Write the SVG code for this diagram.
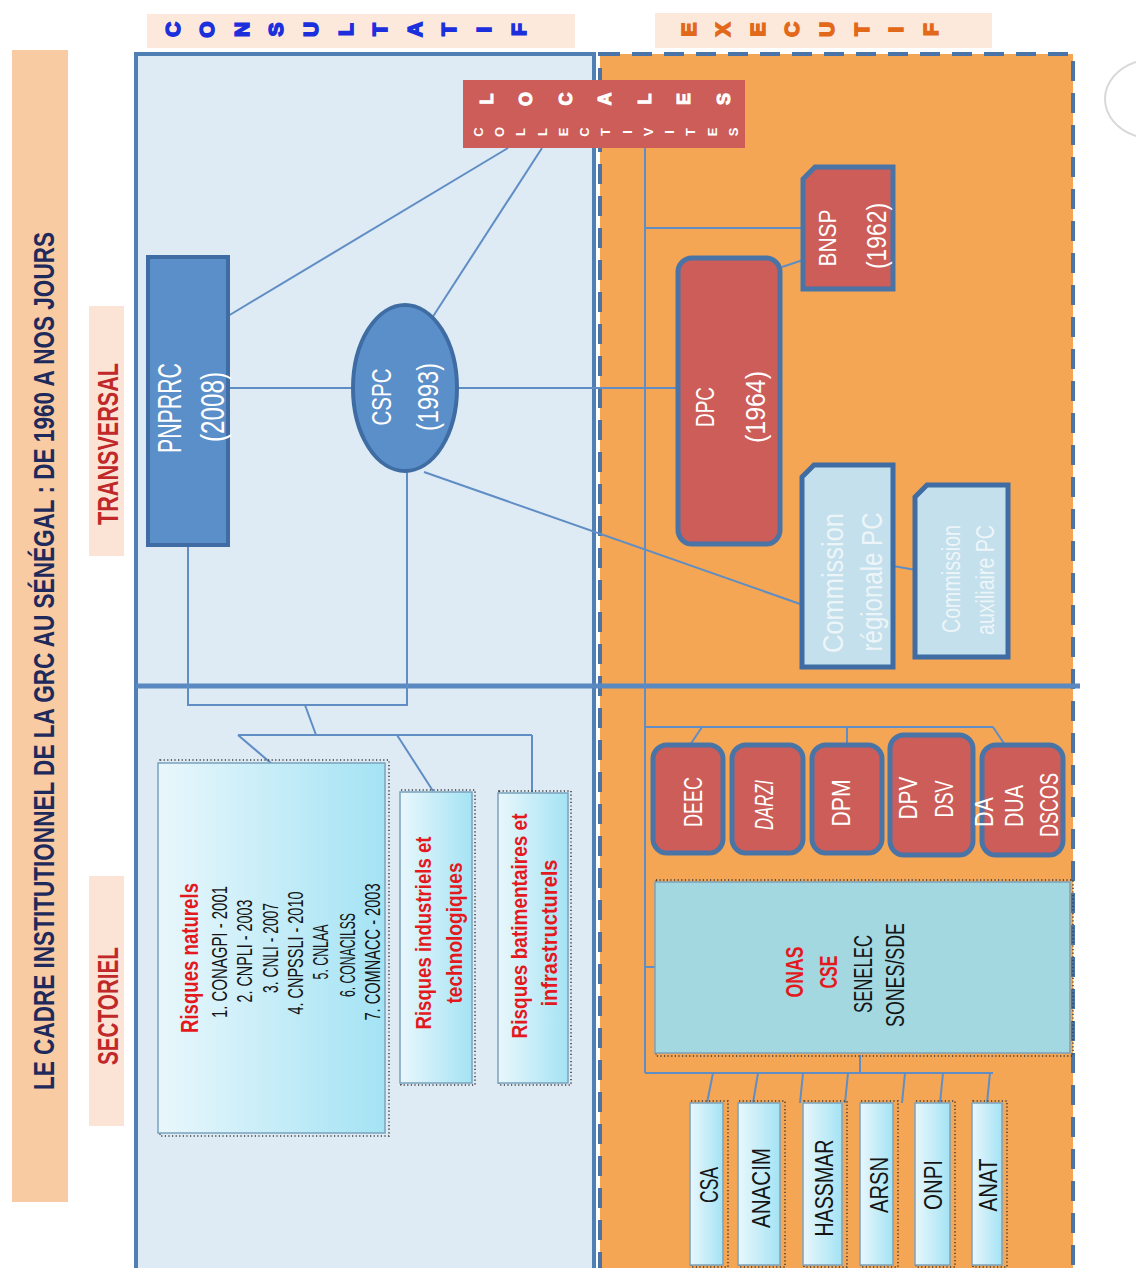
<svg xmlns="http://www.w3.org/2000/svg" width="1136" height="1268" viewBox="0 0 1136 1268">
<defs>
<linearGradient id="cyan" x1="0" y1="0" x2="1" y2="0">
<stop offset="0" stop-color="#e9f7fc"/>
<stop offset="1" stop-color="#a4e3f4"/>
</linearGradient>
<style>
.t{font-family:"Liberation Sans","DejaVu Sans",sans-serif;text-anchor:middle}
.b{font-weight:bold}
.w{fill:#ffffff}
.k{fill:#151515}
.red{fill:#e3191d;font-weight:bold}
.lt{fill:#eef5f9}
.cb{font-family:"Liberation Sans","DejaVu Sans",sans-serif;font-weight:bold;text-anchor:middle;font-size:21px;fill:#1b30dc;stroke:#1b30dc;stroke-width:1.6}
.eb{font-family:"Liberation Sans","DejaVu Sans",sans-serif;font-weight:bold;text-anchor:middle;font-size:21px;fill:#e2691a;stroke:#e2691a;stroke-width:1.6}
.lb{font-family:"Liberation Sans","DejaVu Sans",sans-serif;font-weight:bold;text-anchor:middle;font-size:18px;fill:#ffffff;stroke:#ffffff;stroke-width:1}
.cl{font-family:"Liberation Sans","DejaVu Sans",sans-serif;font-weight:bold;text-anchor:middle;font-size:13px;fill:#ffffff}
.c{stroke:#5f8dc4;stroke-width:2;fill:none}
.blue{fill:#5b8fc9;stroke:#3f6da3;stroke-width:4}
.rbox{fill:#cd5d58;stroke:#4a74a6;stroke-width:5}
.lbox{fill:#c3e0ec;stroke:#3f6da3;stroke-width:5}
.cy{fill:url(#cyan);stroke:#7aa3bd;stroke-width:1.5}
.dot{fill:none;stroke:#3a3a3a;stroke-width:1.5;stroke-dasharray:1.2 2.4}
</style>
</defs>
<rect width="1136" height="1268" fill="#ffffff"/>

<!-- decorative arc -->
<path d="M1136,62 A50,40 0 0 0 1136,136" fill="none" stroke="#d8d8d8" stroke-width="2"/>

<!-- title band -->
<g id="title">
<rect x="12" y="50" width="56" height="1152" fill="#f8cba2"/>
<text class="t b" transform="translate(54,661) rotate(-90) scale(1,1.5)" font-size="20" fill="#1f2a5c" textLength="858" lengthAdjust="spacingAndGlyphs">LE CADRE INSTITUTIONNEL DE LA GRC AU SÉNÉGAL : DE 1960 A NOS JOURS</text>
</g>
<g id="label-transversal">
<rect x="89" y="306" width="35" height="250" fill="#fbe4d6"/>
<text class="t b" transform="translate(118,444) rotate(-90)" font-size="30" fill="#c0282a" textLength="162" lengthAdjust="spacingAndGlyphs">TRANSVERSAL</text>
</g>
<g id="label-sectoriel">
<rect x="89" y="876" width="35" height="250" fill="#fbe4d6"/>
<text class="t b" transform="translate(118,1006) rotate(-90)" font-size="30" fill="#c0282a" textLength="118" lengthAdjust="spacingAndGlyphs">SECTORIEL</text>
</g>

<!-- headers -->
<g id="header-consultatif">
<rect x="147" y="14" width="428" height="34" fill="#fce9dc"/>
<text class="cb" transform="translate(179.5,29.5) rotate(-90)">C</text>
<text class="cb" transform="translate(214.1,29.5) rotate(-90)">O</text>
<text class="cb" transform="translate(248.7,29.5) rotate(-90)">N</text>
<text class="cb" transform="translate(283.3,29.5) rotate(-90)">S</text>
<text class="cb" transform="translate(317.9,29.5) rotate(-90)">U</text>
<text class="cb" transform="translate(352.5,29.5) rotate(-90)">L</text>
<text class="cb" transform="translate(387.1,29.5) rotate(-90)">T</text>
<text class="cb" transform="translate(421.7,29.5) rotate(-90)">A</text>
<text class="cb" transform="translate(456.3,29.5) rotate(-90)">T</text>
<text class="cb" transform="translate(490.9,29.5) rotate(-90)">I</text>
<text class="cb" transform="translate(525.5,29.5) rotate(-90)">F</text>
</g>
<g id="header-executif">
<rect x="655" y="13" width="337" height="35" fill="#fce9dc"/>
<text class="eb" transform="translate(695.5,29.5) rotate(-90)">E</text>
<text class="eb" transform="translate(730.1,29.5) rotate(-90)">X</text>
<text class="eb" transform="translate(764.7,29.5) rotate(-90)">E</text>
<text class="eb" transform="translate(799.3,29.5) rotate(-90)">C</text>
<text class="eb" transform="translate(833.9,29.5) rotate(-90)">U</text>
<text class="eb" transform="translate(868.5,29.5) rotate(-90)">T</text>
<text class="eb" transform="translate(903.1,29.5) rotate(-90)">I</text>
<text class="eb" transform="translate(937.7,29.5) rotate(-90)">F</text>
</g>

<!-- panels -->
<g id="panel-consultatif">
<rect x="136" y="54" width="458" height="1240" fill="#deebf5" stroke="#4f7fb3" stroke-width="4"/>
</g>
<g id="panel-executif">
<rect x="600" y="54" width="473" height="1240" fill="#f5a654" stroke="#4a74a6" stroke-width="4" stroke-dasharray="20 12"/>
</g>
<line x1="136" y1="686" x2="1080" y2="686" stroke="#5a88c0" stroke-width="5"/>

<!-- connectors -->
<g id="connectors">
<line class="c" x1="508" y1="148" x2="228" y2="316"/>
<line class="c" x1="542" y1="148" x2="432" y2="318"/>
<line class="c" x1="228" y1="388" x2="353" y2="388"/>
<line class="c" x1="457" y1="388" x2="678" y2="388"/>
<line class="c" x1="424" y1="472" x2="803" y2="605"/>
<polyline class="c" points="188,545 188,705 407,705 407,470"/>
<line class="c" x1="305" y1="705" x2="316" y2="735"/>
<line class="c" x1="238" y1="735" x2="532" y2="735"/>
<line class="c" x1="238" y1="735" x2="272" y2="764"/>
<line class="c" x1="397" y1="735" x2="433" y2="791"/>
<line class="c" x1="532" y1="735" x2="532" y2="792"/>
<line class="c" x1="645" y1="148" x2="645" y2="1073"/>
<line class="c" x1="645" y1="228" x2="803" y2="228"/>
<line class="c" x1="782" y1="267" x2="803" y2="260"/>
<line class="c" x1="893" y1="566" x2="916" y2="570"/>
<line class="c" x1="645" y1="727" x2="993" y2="727"/>
<line class="c" x1="702" y1="727" x2="690" y2="745"/>
<line class="c" x1="847" y1="727" x2="847" y2="745"/>
<line class="c" x1="993" y1="727" x2="1005" y2="745"/>
<line class="c" x1="645" y1="967" x2="655" y2="967"/>
<line class="c" x1="645" y1="1073" x2="993" y2="1073"/>
<line class="c" x1="860" y1="1055" x2="860" y2="1073"/>
<line class="c" x1="713" y1="1073" x2="707" y2="1103"/>
<line class="c" x1="758" y1="1073" x2="753" y2="1103"/>
<line class="c" x1="803" y1="1073" x2="800" y2="1103"/>
<line class="c" x1="848" y1="1073" x2="845" y2="1103"/>
<line class="c" x1="905" y1="1073" x2="902" y2="1103"/>
<line class="c" x1="943" y1="1073" x2="940" y2="1103"/>
<line class="c" x1="990" y1="1073" x2="987" y2="1103"/>
</g>

<!-- collectivites locales -->
<g id="collectivites">
<rect x="463" y="80" width="282" height="68" fill="#cd5d58"/>
<text class="lb" transform="translate(492.5,99) rotate(-90)">L</text>
<text class="lb" transform="translate(532,99) rotate(-90)">O</text>
<text class="lb" transform="translate(571.5,99) rotate(-90)">C</text>
<text class="lb" transform="translate(611,99) rotate(-90)">A</text>
<text class="lb" transform="translate(650.5,99) rotate(-90)">L</text>
<text class="lb" transform="translate(690,99) rotate(-90)">E</text>
<text class="lb" transform="translate(729.5,99) rotate(-90)">S</text>
<text class="cl" transform="translate(482.7,132) rotate(-90)">C</text>
<text class="cl" transform="translate(504,132) rotate(-90)">O</text>
<text class="cl" transform="translate(525.2,132) rotate(-90)">L</text>
<text class="cl" transform="translate(546.5,132) rotate(-90)">L</text>
<text class="cl" transform="translate(567.7,132) rotate(-90)">E</text>
<text class="cl" transform="translate(589,132) rotate(-90)">C</text>
<text class="cl" transform="translate(610.2,132) rotate(-90)">T</text>
<text class="cl" transform="translate(631.5,132) rotate(-90)">I</text>
<text class="cl" transform="translate(652.7,132) rotate(-90)">V</text>
<text class="cl" transform="translate(674,132) rotate(-90)">I</text>
<text class="cl" transform="translate(695.2,132) rotate(-90)">T</text>
<text class="cl" transform="translate(716.5,132) rotate(-90)">E</text>
<text class="cl" transform="translate(737.7,132) rotate(-90)">S</text>
</g>

<!-- transversal nodes -->
<g id="pnprrc">
<rect class="blue" x="148" y="257" width="80" height="288"/>
<text class="t w" transform="translate(181,408) rotate(-90)" font-size="33" textLength="90" lengthAdjust="spacingAndGlyphs">PNPRRC</text>
<text class="t w" transform="translate(224,407) rotate(-90)" font-size="33" textLength="70" lengthAdjust="spacingAndGlyphs">(2008)</text>
</g>
<g id="cspc">
<ellipse class="blue" cx="405" cy="388" rx="52" ry="83"/>
<text class="t w" transform="translate(391,397) rotate(-90)" font-size="27" textLength="57" lengthAdjust="spacingAndGlyphs">CSPC</text>
<text class="t w" transform="translate(438,397) rotate(-90)" font-size="30" textLength="68" lengthAdjust="spacingAndGlyphs">(1993)</text>
</g>
<g id="dpc">
<rect class="rbox" x="678" y="258" width="102" height="286" rx="14"/>
<text class="t w" transform="translate(714,407) rotate(-90)" font-size="26" textLength="40" lengthAdjust="spacingAndGlyphs">DPC</text>
<text class="t w" transform="translate(765,407) rotate(-90)" font-size="28" textLength="72" lengthAdjust="spacingAndGlyphs">(1964)</text>
</g>
<g id="bnsp">
<path class="rbox" d="M815,167 H893 V289 H803 V179 Z" stroke-width="4"/>
<text class="t w" transform="translate(836,238) rotate(-90)" font-size="24" textLength="57" lengthAdjust="spacingAndGlyphs">BNSP</text>
<text class="t w" transform="translate(886,236) rotate(-90)" font-size="27" textLength="66" lengthAdjust="spacingAndGlyphs">(1962)</text>
</g>
<g id="commission-regionale">
<path class="lbox" d="M814,465 H893 V667 H802 V477 Z"/>
<text class="t lt" transform="translate(843,583) rotate(-90)" font-size="30" textLength="140" lengthAdjust="spacingAndGlyphs">Commission</text>
<text class="t lt" transform="translate(882,582) rotate(-90)" font-size="30" textLength="139" lengthAdjust="spacingAndGlyphs">régionale PC</text>
</g>
<g id="commission-auxiliaire">
<path class="lbox" d="M927,485 H1008 V657 H915 V497 Z"/>
<text class="t lt" transform="translate(960,579) rotate(-90)" font-size="25" textLength="108" lengthAdjust="spacingAndGlyphs">Commission</text>
<text class="t lt" transform="translate(994,580) rotate(-90)" font-size="25" textLength="110" lengthAdjust="spacingAndGlyphs">auxiliaire PC</text>
</g>

<!-- sectoriel consultatif -->
<g id="risques-naturels">
<rect class="dot" x="160" y="760" width="229" height="376"/>
<rect class="cy" x="158" y="763" width="227" height="370"/>
<text class="t red" transform="translate(198,958) rotate(-90)" font-size="24" textLength="150" lengthAdjust="spacingAndGlyphs">Risques naturels</text>
<text class="t k" transform="translate(227,952) rotate(-90)" font-size="22" textLength="132" lengthAdjust="spacingAndGlyphs">1. CONAGPI   - 2001</text>
<text class="t k" transform="translate(252,951) rotate(-90)" font-size="22" textLength="103" lengthAdjust="spacingAndGlyphs">2. CNPLI  - 2003</text>
<text class="t k" transform="translate(278,948) rotate(-90)" font-size="22" textLength="90" lengthAdjust="spacingAndGlyphs">3. CNLI  - 2007</text>
<text class="t k" transform="translate(303,953) rotate(-90)" font-size="22" textLength="123" lengthAdjust="spacingAndGlyphs">4. CNPSSLI   - 2010</text>
<text class="t k" transform="translate(328,952) rotate(-90)" font-size="22" textLength="55" lengthAdjust="spacingAndGlyphs">5. CNLAA</text>
<text class="t k" transform="translate(355,955) rotate(-90)" font-size="22" textLength="84" lengthAdjust="spacingAndGlyphs">6. CONACILSS</text>
<text class="t k" transform="translate(380,952) rotate(-90)" font-size="22" textLength="137" lengthAdjust="spacingAndGlyphs">7. COMNACC   - 2003</text>
</g>
<g id="risques-industriels">
<rect class="dot" x="401" y="790" width="74" height="295"/>
<rect class="cy" x="400" y="792" width="72" height="291"/>
<text class="t red" transform="translate(431,933) rotate(-90)" font-size="22" textLength="193" lengthAdjust="spacingAndGlyphs">Risques industriels et</text>
<text class="t red" transform="translate(462,933) rotate(-90)" font-size="22" textLength="141" lengthAdjust="spacingAndGlyphs">technologiques</text>
</g>
<g id="risques-batimentaires">
<rect class="dot" x="499" y="791" width="72" height="294"/>
<rect class="cy" x="498" y="793" width="70" height="290"/>
<text class="t red" transform="translate(527,926) rotate(-90)" font-size="22" textLength="225" lengthAdjust="spacingAndGlyphs">Risques batimentaires et</text>
<text class="t red" transform="translate(557,933) rotate(-90)" font-size="22" textLength="147" lengthAdjust="spacingAndGlyphs">infrastructurels</text>
</g>

<!-- sectoriel executif -->
<g id="deec">
<rect class="rbox" x="653" y="745" width="70" height="108" rx="14"/>
<text class="t w" transform="translate(702,802) rotate(-90)" font-size="26" textLength="50" lengthAdjust="spacingAndGlyphs">DEEC</text>
</g>
<g id="darzi">
<rect class="rbox" x="732" y="745" width="71" height="108" rx="14"/>
<text class="t w" transform="translate(773,805) rotate(-90)" font-size="26" font-style="italic" textLength="50" lengthAdjust="spacingAndGlyphs">DARZI</text>
</g>
<g id="dpm">
<rect class="rbox" x="812" y="745" width="70" height="108" rx="14"/>
<text class="t w" transform="translate(850,803) rotate(-90)" font-size="26" textLength="47" lengthAdjust="spacingAndGlyphs">DPM</text>
</g>
<g id="dpv-dsv">
<rect class="rbox" x="890" y="735" width="83" height="120" rx="14"/>
<text class="t w" transform="translate(917,798) rotate(-90)" font-size="26" textLength="43" lengthAdjust="spacingAndGlyphs">DPV</text>
<text class="t w" transform="translate(953,799) rotate(-90)" font-size="26" textLength="37" lengthAdjust="spacingAndGlyphs">DSV</text>
</g>
<g id="da-dua-dscos">
<rect class="rbox" x="982" y="745" width="81" height="110" rx="14"/>
<text class="t w" transform="translate(993,812) rotate(-90)" font-size="26" textLength="30" lengthAdjust="spacingAndGlyphs">DA</text>
<text class="t w" transform="translate(1023,806) rotate(-90)" font-size="26" textLength="42" lengthAdjust="spacingAndGlyphs">DUA</text>
<text class="t w" transform="translate(1058,805) rotate(-90)" font-size="26" textLength="64" lengthAdjust="spacingAndGlyphs">DSCOS</text>
</g>
<g id="onas">
<rect class="dot" x="656" y="880" width="417" height="176"/>
<rect x="655" y="882" width="415" height="171" fill="#a3d8e0" stroke="#7aa3bd" stroke-width="1.5"/>
<text class="t red" transform="translate(803,972) rotate(-90)" font-size="24" fill="#d0191c" textLength="51" lengthAdjust="spacingAndGlyphs">ONAS</text>
<text class="t red" transform="translate(837,972) rotate(-90)" font-size="24" fill="#d0191c" textLength="33" lengthAdjust="spacingAndGlyphs">CSE</text>
<text class="t k" transform="translate(872,974) rotate(-90)" font-size="26" textLength="78" lengthAdjust="spacingAndGlyphs">SENELEC</text>
<text class="t k" transform="translate(904,975) rotate(-90)" font-size="26" textLength="104" lengthAdjust="spacingAndGlyphs">SONES/SDE</text>
</g>
<g id="csa">
<rect class="dot" x="691" y="1101" width="37" height="166"/>
<rect class="cy" x="690" y="1103" width="33" height="162"/>
<text class="t k" transform="translate(718,1185) rotate(-90)" font-size="26" textLength="36" lengthAdjust="spacingAndGlyphs">CSA</text>
</g>
<g id="anacim">
<rect class="dot" x="739" y="1101" width="46" height="166"/>
<rect class="cy" x="738" y="1103" width="42" height="162"/>
<text class="t k" transform="translate(770,1188) rotate(-90)" font-size="26" textLength="80" lengthAdjust="spacingAndGlyphs">ANACIM</text>
</g>
<g id="hassmar">
<rect class="dot" x="804" y="1101" width="43" height="166"/>
<rect class="cy" x="803" y="1103" width="39" height="162"/>
<text class="t k" transform="translate(833,1188) rotate(-90)" font-size="26" textLength="97" lengthAdjust="spacingAndGlyphs">HASSMAR</text>
</g>
<g id="arsn">
<rect class="dot" x="861" y="1101" width="37" height="166"/>
<rect class="cy" x="860" y="1103" width="33" height="162"/>
<text class="t k" transform="translate(888,1185) rotate(-90)" font-size="26" textLength="56" lengthAdjust="spacingAndGlyphs">ARSN</text>
</g>
<g id="onpi">
<rect class="dot" x="916" y="1101" width="39" height="166"/>
<rect class="cy" x="915" y="1103" width="35" height="162"/>
<text class="t k" transform="translate(942,1185) rotate(-90)" font-size="26" textLength="50" lengthAdjust="spacingAndGlyphs">ONPI</text>
</g>
<g id="anat">
<rect class="dot" x="973" y="1101" width="34" height="166"/>
<rect class="cy" x="972" y="1103" width="30" height="162"/>
<text class="t k" transform="translate(997,1185) rotate(-90)" font-size="26" textLength="53" lengthAdjust="spacingAndGlyphs">ANAT</text>
</g>
</svg>
